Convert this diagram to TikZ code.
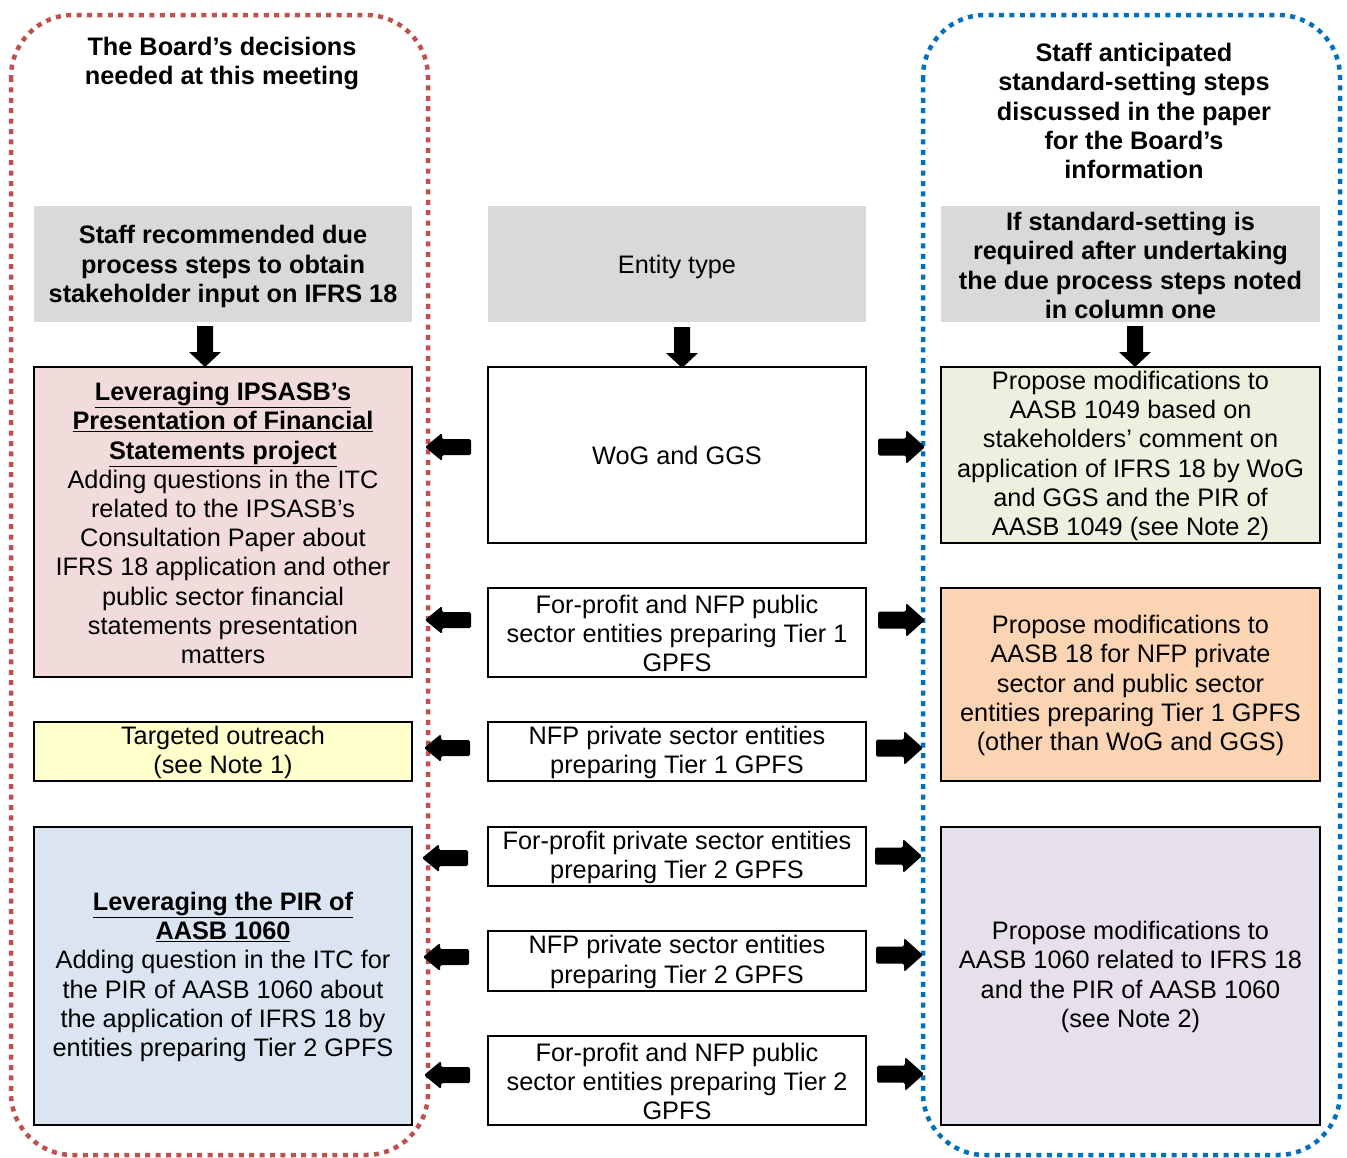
\documentclass[tikz,border=0pt]{standalone}
\usepackage{fontspec}
\setmainfont{Liberation Sans}
\definecolor{cred}{HTML}{C0504D}
\definecolor{cblue}{HTML}{0070C0}
\definecolor{cgray}{HTML}{D9D9D9}
\definecolor{cpink}{HTML}{F2DCDB}
\definecolor{cgreen}{HTML}{EBF1DE}
\definecolor{corange}{HTML}{FBD4B4}
\definecolor{cyellow}{HTML}{FFFFCC}
\definecolor{cbluebox}{HTML}{DBE5F1}
\definecolor{cpurple}{HTML}{E5E0EC}
\newcommand{\ArrL}[2]{\fill[black,rounded corners=1.5pt,shift={(#1,#2)}] (0,0) -- (17,-14) -- (17,-8) -- (46,-8) -- (46,8) -- (17,8) -- (17,14) -- cycle;}
\newcommand{\ArrR}[2]{\fill[black,rounded corners=1.5pt,shift={(#1,#2)}] (0,0) -- (-19,-17) -- (-19,-8.5) -- (-47,-8.5) -- (-47,8.5) -- (-19,8.5) -- (-19,17) -- cycle;}
\newcommand{\ArrD}[2]{\fill[black,shift={(#1,#2)}] (0,0) -- (-16,-15) -- (-8,-15) -- (-8,-41) -- (8,-41) -- (8,-15) -- (16,-15) -- cycle;}
% box with text shifted slightly down: name, x, y, width, height, style, text
\newcommand{\mkbox}[8]{%
  \node[#6, minimum width=#4pt, minimum height=#5pt] (#1) at (#2,#3) {};
  \node[txt, yshift=#7] (#1t) at (#1.center) {#8};}
\begin{document}
\begin{tikzpicture}[x=1pt,y=-1pt,
  txt/.style={font=\fontsize{25.3}{29.2}\selectfont, align=center, inner sep=0pt},
  bx/.style={draw=black, line width=2pt, inner sep=0pt},
  hd/.style={fill=cgray, inner sep=0pt},
  ttl/.style={txt, font=\fontsize{25.3}{29.2}\selectfont\bfseries},
  frame/.style={line width=4.5pt, dash pattern=on 5pt off 5.4pt, rounded corners=62pt}
]
\useasboundingbox (0,0) rectangle (1347,1157);
\fill[white] (0,0) rectangle (1347,1157);

% containers
\draw[frame, draw=cred] (11,15) rectangle (428,1155);
\draw[frame, draw=cblue] (923,15) rectangle (1340,1155);

% titles
\node[ttl] (t1) at (222,63.5) {The Board’s decisions\\needed at this meeting};
\node[ttl] (t2) at (1134,111) {Staff anticipated\\standard-setting steps\\discussed in the paper\\for the Board’s\\information};

% header boxes
\mkbox{h1}{223}{264}{378}{116}{hd}{-2.5pt}{\bfseries Staff recommended due\\\bfseries process steps to obtain\\\bfseries stakeholder input on IFRS 18}
\mkbox{h2}{677}{264}{378}{116}{hd}{-2.5pt}{Entity type}
\mkbox{h3}{1130.5}{264}{379}{116}{hd}{-1.5pt}{\bfseries If standard-setting is\\\bfseries required after undertaking\\\bfseries the due process steps noted\\\bfseries in column one}

% left column
\mkbox{l1}{223}{522}{378}{310}{bx, fill=cpink}{-1pt}{\textbf{\underline{Leveraging IPSASB’s}}\\\textbf{\underline{Presentation of Financial}}\\\textbf{\underline{Statements project}}\\Adding questions in the ITC\\related to the IPSASB’s\\Consultation Paper about\\IFRS 18 application and other\\public sector financial\\statements presentation\\matters}
\mkbox{l2}{223}{751.5}{378}{59}{bx, fill=cyellow}{-1pt}{Targeted outreach\\(see Note 1)}
\mkbox{l3}{223}{976}{378}{298}{bx, fill=cbluebox}{-1pt}{\textbf{\underline{Leveraging the PIR of}}\\\textbf{\underline{AASB 1060}}\\Adding question in the ITC for\\the PIR of AASB 1060 about\\the application of IFRS 18 by\\entities preparing Tier 2 GPFS}

% middle column
\mkbox{m1}{677}{455}{378}{176}{bx, fill=white}{0pt}{WoG and GGS}
\mkbox{m2}{677}{632.5}{378}{89}{bx, fill=white}{-1pt}{For-profit and NFP public\\sector entities preparing Tier 1\\GPFS}
\mkbox{m3}{677}{751.5}{378}{59}{bx, fill=white}{-1pt}{NFP private sector entities\\preparing Tier 1 GPFS}
\mkbox{m4}{677}{856.5}{378}{59}{bx, fill=white}{-1pt}{For-profit private sector entities\\preparing Tier 2 GPFS}
\mkbox{m5}{677}{961}{378}{60}{bx, fill=white}{-1pt}{NFP private sector entities\\preparing Tier 2 GPFS}
\mkbox{m6}{677}{1080.5}{378}{89}{bx, fill=white}{-1pt}{For-profit and NFP public\\sector entities preparing Tier 2\\GPFS}

% right column
\mkbox{r1}{1130.5}{455}{379}{176}{bx, fill=cgreen}{-1pt}{Propose modifications to\\AASB 1049 based on\\stakeholders’ comment on\\application of IFRS 18 by WoG\\and GGS and the PIR of\\AASB 1049 (see Note 2)}
\mkbox{r2}{1130.5}{684.5}{379}{193}{bx, fill=corange}{-1pt}{Propose modifications to\\AASB 18 for NFP private\\sector and public sector\\entities preparing Tier 1 GPFS\\(other than WoG and GGS)}
\mkbox{r3}{1130.5}{976}{379}{298}{bx, fill=cpurple}{-1pt}{Propose modifications to\\AASB 1060 related to IFRS 18\\and the PIR of AASB 1060\\(see Note 2)}

% down arrows
\ArrD{205}{367}
\ArrD{682}{368}
\ArrD{1135}{367}

% left arrows
\ArrL{425}{447}
\ArrL{425}{620}
\ArrL{424}{748}
\ArrL{422}{858}
\ArrL{423}{957}
\ArrL{424}{1075}

% right arrows
\ArrR{925}{447}
\ArrR{925}{620}
\ArrR{923}{748}
\ArrR{922}{856}
\ArrR{923}{955}
\ArrR{924}{1074}
\end{tikzpicture}
\end{document}
